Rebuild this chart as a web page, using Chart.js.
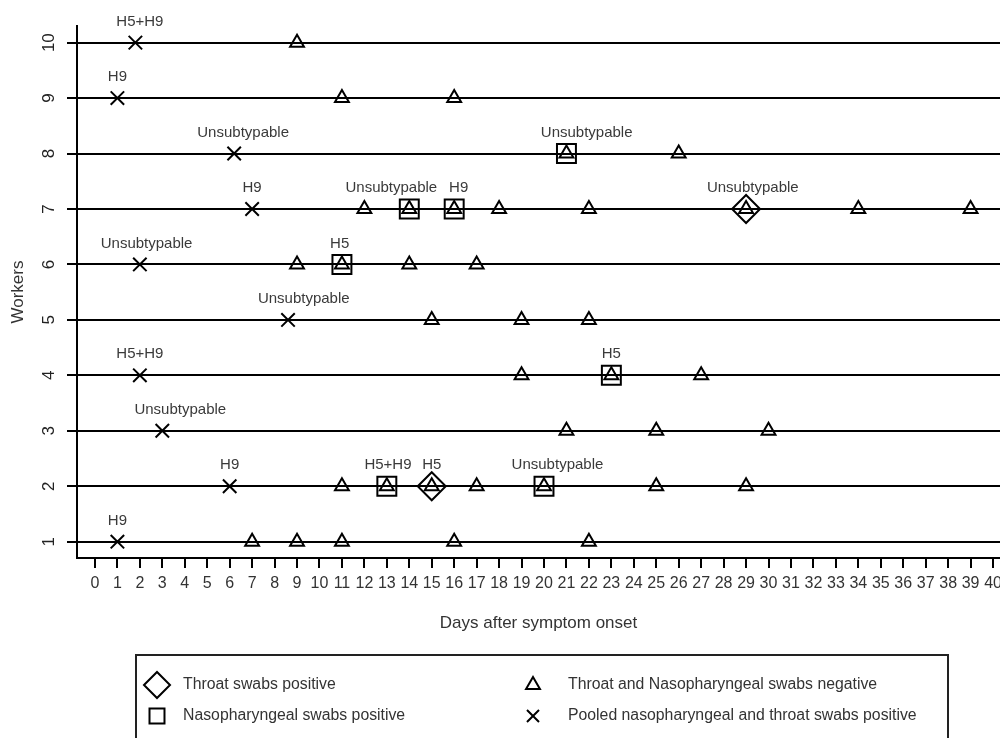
<!DOCTYPE html>
<html>
<head>
<meta charset="utf-8">
<script src="https://cdn.jsdelivr.net/npm/chart.js@4.4.1/dist/chart.umd.min.js"></script>
<style>
  html, body { margin: 0; padding: 0; background: #fff; overflow: hidden; }
  canvas { display: block; }
</style>
</head>
<body>
<canvas id="grafico" width="1000" height="738"></canvas>
<script>
// dias apos inicio dos sintomas (x) e numero do trabalhador (y)
const throatDays = [29, 15];
const throatWorkers = [7, 2];

const nasoDays = [21, 14, 16, 11, 23, 13, 20];
const nasoWorkers = [8, 7, 7, 6, 4, 2, 2];

const negDays = [9, 11, 16, 21, 26, 12, 14, 16, 18, 22, 29, 34, 39, 9, 11, 14, 17, 15, 19, 22, 19, 23, 27, 21, 25, 30, 11, 13, 15, 17, 20, 25, 29, 7, 9, 11, 16, 22];
const negWorkers = [10, 9, 9, 8, 8, 7, 7, 7, 7, 7, 7, 7, 7, 6, 6, 6, 6, 5, 5, 5, 4, 4, 4, 3, 3, 3, 2, 2, 2, 2, 2, 2, 2, 1, 1, 1, 1, 1];

const pooledDays = [1.8, 1, 6.2, 7, 2, 8.6, 2, 3, 6, 1];
const pooledWorkers = [10, 9, 8, 7, 6, 5, 4, 3, 2, 1];

// subtipos escritos acima dos pontos
const subtypeText = ["H5+H9", "H9", "Unsubtypable", "Unsubtypable", "H9", "Unsubtypable", "H9", "Unsubtypable", "Unsubtypable", "H5", "Unsubtypable", "H5+H9", "H5", "Unsubtypable", "H9", "H5+H9", "H5", "Unsubtypable", "H9"];
const subtypeDays = [2.0, 1.0, 6.6, 21.9, 7.0, 13.2, 16.2, 29.3, 2.3, 10.9, 9.3, 2.0, 23.0, 3.8, 6.0, 13.05, 15.0, 20.6, 1.0];
const subtypeWorkers = [10, 9, 8, 8, 7, 7, 7, 7, 6, 6, 5, 4, 4, 3, 2, 2, 2, 2, 1];

const dayTicks = [0, 1, 2, 3, 4, 5, 6, 7, 8, 9, 10, 11, 12, 13, 14, 15, 16, 17, 18, 19, 20, 21, 22, 23, 24, 25, 26, 27, 28, 29, 30, 31, 32, 33, 34, 35, 36, 37, 38, 39, 40];
const workerTicks = [1, 2, 3, 4, 5, 6, 7, 8, 9, 10];

const FONTE = '"Liberation Sans", Arial, sans-serif';

function pontos(xs, ys) {
  return xs.map((x, i) => ({ x: x, y: ys[i] }));
}

function marcador(label, data, estilo, raio) {
  return {
    label: label,
    data: data,
    showLine: false,
    pointStyle: estilo,
    pointRadius: raio,
    pointHoverRadius: raio,
    borderColor: "#000",
    backgroundColor: "rgba(0,0,0,0)",
    pointBorderColor: "#000",
    pointBackgroundColor: "rgba(0,0,0,0)",
    pointBorderWidth: 2,
    pointHoverBorderWidth: 2,
  };
}

const rotulosPlugin = {
  id: "rotulos",
  afterDatasetsDraw(chart) {
    const { ctx } = chart;
    const x = chart.scales.x;
    const y = chart.scales.y;
    ctx.save();
    ctx.font = "15px " + FONTE;
    ctx.fillStyle = "#3a3a3a";
    ctx.textAlign = "center";
    ctx.textBaseline = "middle";
    subtypeText.forEach((t, i) => {
      ctx.fillText(t, x.getPixelForValue(subtypeDays[i]), y.getPixelForValue(subtypeWorkers[i]) - 21);
    });
    ctx.restore();
  },
};

// numeros dos eixos (y girado), desenhados a mao para nao mexer na area do grafico
const eixosPlugin = {
  id: "eixos",
  afterDraw(chart) {
    const { ctx } = chart;
    const x = chart.scales.x;
    const y = chart.scales.y;
    ctx.save();
    ctx.textAlign = "center";
    ctx.textBaseline = "middle";
    ctx.font = "17px " + FONTE;
    ctx.fillStyle = "#222";
    workerTicks.forEach((v) => {
      ctx.save();
      ctx.translate(49, y.getPixelForValue(v));
      ctx.rotate(-Math.PI / 2);
      ctx.fillText(String(v), 0, 0);
      ctx.restore();
    });
    ctx.font = "16px " + FONTE;
    ctx.fillStyle = "#333";
    dayTicks.forEach((v) => {
      ctx.fillText(String(v), x.getPixelForValue(v), chart.chartArea.bottom + 26);
    });
    ctx.restore();
  },
};

const legendaPlugin = {
  id: "legenda",
  afterDraw(chart) {
    const { ctx } = chart;
    const colX = [157, 533];
    const textX = [183, 568];
    const rowY = [685, 716];
    const tamanhos = [13, 10.6, 8, 8.5];
    ctx.save();
    ctx.strokeStyle = "#222";
    ctx.lineWidth = 2;
    ctx.strokeRect(136, 655, 812, 100);
    chart.data.datasets.forEach((ds, i) => {
      const c = Math.floor(i / 2);
      const r = i % 2;
      ctx.strokeStyle = "#000";
      ctx.fillStyle = "rgba(0,0,0,0)";
      ctx.lineWidth = 2;
      Chart.helpers.drawPoint(ctx, { pointStyle: ds.pointStyle, radius: tamanhos[i], rotation: 0, borderWidth: 2 }, colX[c], rowY[r]);
      ctx.fillStyle = "#333";
      ctx.font = "15.8px " + FONTE;
      ctx.textAlign = "left";
      ctx.textBaseline = "middle";
      ctx.fillText(ds.label, textX[c], rowY[r]);
    });
    ctx.restore();
  },
};

new Chart(document.getElementById("grafico"), {
  type: "scatter",
  data: {
    datasets: [
      marcador("Throat swabs positive", pontos(throatDays, throatWorkers), "rectRot", 14),
      marcador("Nasopharyngeal swabs positive", pontos(nasoDays, nasoWorkers), "rect", 13.4),
      marcador("Throat and Nasopharyngeal swabs negative", pontos(negDays, negWorkers), "triangle", 8),
      marcador("Pooled nasopharyngeal and throat swabs positive", pontos(pooledDays, pooledWorkers), "crossRot", 9.5),
    ],
  },
  options: {
    responsive: false,
    animation: false,
    devicePixelRatio: 1,
    layout: { autoPadding: false, padding: { top: 26, left: 0, right: 0, bottom: 0 } },
    plugins: {
      legend: { display: false },
      tooltip: { enabled: false },
    },
    scales: {
      x: {
        type: "linear",
        min: -0.8,
        max: 40.31,
        afterBuildTicks: (s) => {
          s.ticks = dayTicks.map((v) => ({ value: v }));
        },
        afterFit: (s) => {
          s.height = 180;
        },
        border: { display: true, color: "#000", width: 2 },
        grid: { display: true, drawOnChartArea: false, drawTicks: true, tickLength: 10, color: "#000", lineWidth: 2 },
        ticks: { display: false },
        title: {
          display: true,
          text: "Days after symptom onset",
          color: "#333",
          font: { family: FONTE, size: 17 },
          padding: { top: 0, bottom: 104 },
        },
      },
      y: {
        type: "linear",
        min: 0.706,
        max: 10.3,
        afterBuildTicks: (s) => {
          s.ticks = workerTicks.map((v) => ({ value: v }));
        },
        afterFit: (s) => {
          s.width = 77;
        },
        border: { display: true, color: "#000", width: 2 },
        grid: { color: "#000", lineWidth: 2, drawTicks: true, tickLength: 10 },
        ticks: { display: false },
        title: {
          display: true,
          text: "Workers",
          color: "#333",
          font: { family: FONTE, size: 17 },
          padding: { top: 8, bottom: 0 },
        },
      },
    },
  },
  plugins: [rotulosPlugin, eixosPlugin, legendaPlugin],
});
</script>
</body>
</html>
